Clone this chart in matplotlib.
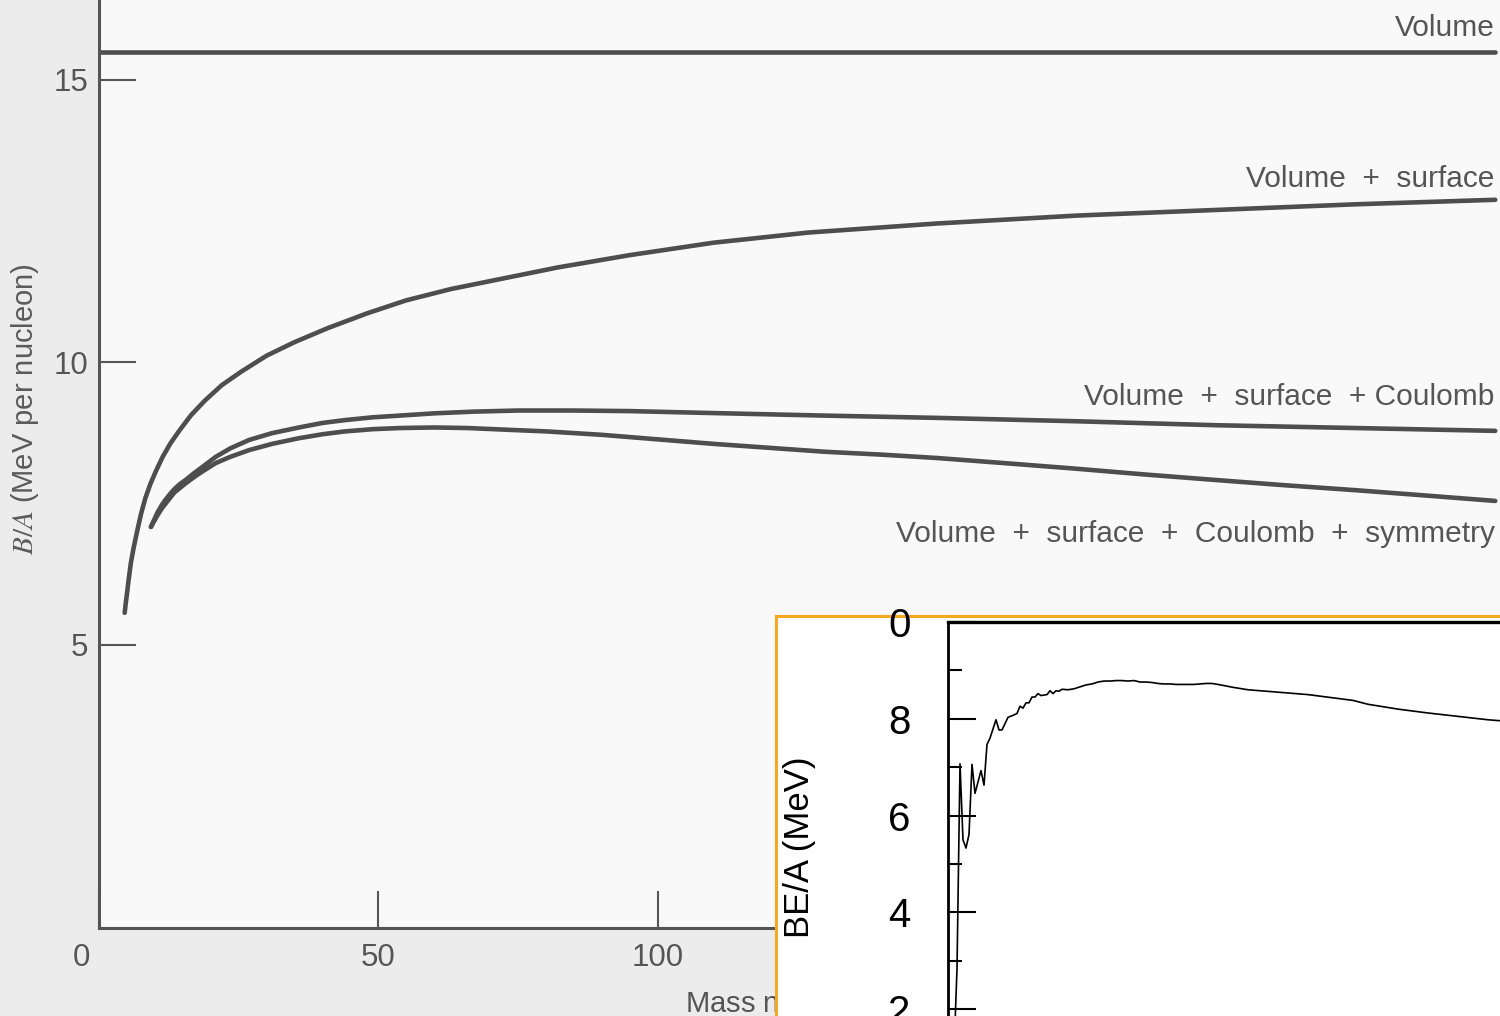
import matplotlib
matplotlib.use("Agg")
import matplotlib.pyplot as plt
from matplotlib.transforms import ScaledTranslation

plt.rcParams["font.family"] = ["Liberation Sans", "DejaVu Sans"]
plt.rcParams["mathtext.fontset"] = "stix"

# Semi-empirical mass formula, term by term (B/A in MeV per nucleon)
A_VOL = [0, 250]
BA_VOL = [15.5, 15.5]

A_VS = [4.6, 4.8, 5.0, 5.3, 5.7, 6.2, 6.8, 7.5, 8.3, 9.2, 10.2, 11.4, 12.8, 14.5,
        16.5, 19, 22, 25.5, 30, 35, 41, 48, 55, 63, 72, 82, 95, 110, 127, 150, 175,
        200, 225, 250]
BA_VS = [5.57, 5.75, 5.9, 6.15, 6.45, 6.72, 7.0, 7.31, 7.6, 7.85, 8.08, 8.33, 8.57, 8.81,
         9.07, 9.33, 9.6, 9.84, 10.12, 10.36, 10.61, 10.87, 11.1, 11.3, 11.48, 11.68,
         11.9, 12.12, 12.3, 12.46, 12.6, 12.7, 12.8, 12.88]

A_VSC = [9.3, 9.8, 10.5, 11.2, 11.9, 12.7, 13.5, 14.5, 15.5, 17, 18.5, 20.9, 23.5,
         26.9, 31, 35.8, 40, 44, 49, 53.8, 60, 67, 75, 85, 95, 107.8, 130, 150, 175,
         200, 225, 250]
BA_VSC = [7.09, 7.2, 7.35, 7.47, 7.57, 7.67, 7.76, 7.85, 7.92, 8.04, 8.15, 8.33, 8.48,
          8.63, 8.75, 8.85, 8.93, 8.98, 9.03, 9.06, 9.1, 9.13, 9.15, 9.15, 9.14, 9.11,
          9.06, 9.02, 8.96, 8.89, 8.84, 8.79]

A_VSCS = [9.3, 9.8, 10.5, 11.2, 11.9, 12.7, 13.5, 14.5, 15.5, 17, 18.5, 20.9, 23.5,
          26.9, 31, 35.8, 40, 44, 49, 53.8, 60, 66, 73, 80.2, 90, 100, 110, 120, 130,
          140, 150, 162, 175, 187, 200, 212, 225, 237, 250]
BA_VSCS = [7.09, 7.18, 7.3, 7.41, 7.5, 7.6, 7.7, 7.78, 7.86, 7.97, 8.07, 8.22, 8.33,
           8.45, 8.56, 8.66, 8.73, 8.78, 8.82, 8.84, 8.85, 8.84, 8.81, 8.78, 8.72, 8.64,
           8.56, 8.49, 8.42, 8.37, 8.31, 8.22, 8.12, 8.02, 7.92, 7.83, 7.74, 7.65, 7.55]

CURVE_LABELS = ["Volume", "Volume  +  surface", "Volume  +  surface  + Coulomb",
                "Volume  +  surface  +  Coulomb  +  symmetry"]
LABEL_Y = [15.77, 13.11, 9.25, 6.83]

# Measured binding energy per nucleon
A_MEAS = [1, 2, 3, 4, 5, 6, 7, 8, 9, 11, 12, 13, 14, 16, 17, 18, 20, 22, 23, 24, 25,
          26, 27, 28, 29, 30, 31, 32, 33, 34, 35, 36, 37, 38, 40, 42, 44, 46, 48, 50,
          52, 54, 56, 58, 60, 62, 64, 66, 68, 70, 72, 74, 76, 78, 80, 82, 84, 86, 88,
          90, 95, 100, 110, 120, 130, 135, 140, 145, 150, 160, 170, 180, 184, 190,
          200, 210, 220, 230, 238]
BA_MEAS = [0.0, 1.11, 2.83, 7.07, 5.5, 5.33, 5.61, 7.06, 6.46, 6.93, 6.63, 7.47, 7.6,
           7.98, 7.77, 7.77, 8.03, 8.08, 8.11, 8.26, 8.22, 8.33, 8.33, 8.45, 8.45, 8.52,
           8.48, 8.49, 8.5, 8.58, 8.52, 8.58, 8.57, 8.61, 8.6, 8.62, 8.66, 8.7, 8.72,
           8.76, 8.78, 8.78, 8.79, 8.79, 8.78, 8.79, 8.76, 8.76, 8.75, 8.73, 8.72, 8.72,
           8.71, 8.71, 8.71, 8.71, 8.72, 8.73, 8.73, 8.71, 8.65, 8.6, 8.55, 8.5, 8.42,
           8.38, 8.3, 8.25, 8.2, 8.12, 8.05, 7.98, 7.96, 7.92, 7.87, 7.82, 7.75, 7.68,
           7.57]

W, H = 1500, 1016
INK = "#555555"
LINE = "#4e4e4e"


def px_box(left, top, right, bottom):
    return [left / W, 1 - bottom / H, (right - left) / W, (bottom - top) / H]


fig = plt.figure(figsize=(W / 100, H / 100), dpi=100)
fig.patch.set_facecolor("#ececec")

# --- main panel ---
ax = fig.add_axes(px_box(99, 0, 1500, 927.5))
ax.set_facecolor("#f9f9f9")
ax.set_xlim(0, 1401 / 5.585)
ax.set_ylim(0, 927.5 / 56.5)

for xs, ys in [(A_VOL, BA_VOL), (A_VS, BA_VS), (A_VSC, BA_VSC), (A_VSCS, BA_VSCS)]:
    ax.plot(xs, ys, color=LINE, lw=3.3, solid_capstyle="round", solid_joinstyle="round")

for text, y in zip(CURVE_LABELS, LABEL_Y):
    ax.text(249.9, y, text, ha="right", va="baseline", fontsize=21.5, color=INK)

for side in ["top", "right"]:
    ax.spines[side].set_visible(False)
for side in ["left", "bottom"]:
    ax.spines[side].set_color(INK)
    ax.spines[side].set_linewidth(2.2)

ax.set_xticks([0, 50, 100, 150, 200])
ax.set_yticks([5, 10, 15])
ax.tick_params(direction="in", length=26.5, width=1.5, colors=INK, labelsize=22.5)
ax.tick_params(axis="x", pad=11)
ax.tick_params(axis="y", pad=8)
zero = ax.get_xticklabels()[0]
zero.set_transform(zero.get_transform() + ScaledTranslation(-0.175, 0, fig.dpi_scale_trans))

fig.text(25 / W, 1 - 409 / H, r"$B/A$ (MeV per nucleon)", rotation=90,
         ha="center", va="center", fontsize=21, color="#5a5a5a")
fig.text(685 / W, 1 - 1012 / H, r"Mass number $A$", ha="left", va="baseline",
         fontsize=21, color=INK)

# --- inset with measured values ---
frame = fig.add_axes(px_box(776, 616, 1700, 1300))
frame.set_zorder(10)
frame.set_facecolor("white")
frame.set_xticks([])
frame.set_yticks([])
for side in ["left", "top"]:
    frame.spines[side].set_color("#f7a823")
    frame.spines[side].set_linewidth(2.2)
for side in ["right", "bottom"]:
    frame.spines[side].set_visible(False)

inset = fig.add_axes(px_box(948, 622, 948 + 3 * 250, 622 + 48.4 * 10))
inset.set_zorder(11)
inset.patch.set_visible(False)
inset.set_xlim(0, 250)
inset.set_ylim(0, 10)
inset.plot(A_MEAS, BA_MEAS, color="black", lw=1.2)

inset.spines["right"].set_visible(False)
inset.spines["bottom"].set_visible(False)
inset.spines["left"].set_linewidth(2.0)
inset.spines["top"].set_linewidth(2.4)
inset.set_xticks([])
inset.set_yticks([2, 4, 6, 8, 10])
inset.set_yticklabels(["2", "4", "6", "8", "0"])
inset.set_yticks([3, 5, 7, 9], minor=True)
inset.tick_params(axis="y", which="major", direction="in", length=20, width=1.5,
                  labelsize=29, pad=27)
inset.tick_params(axis="y", which="minor", direction="in", length=10, width=1.5)
inset.text((800 - 948) / 750, (1106 - 847) / 484, "BE/A (MeV)", transform=inset.transAxes,
           rotation=90, ha="center", va="center", fontsize=25)

fig.savefig("out.png", dpi=100, facecolor=fig.get_facecolor())
